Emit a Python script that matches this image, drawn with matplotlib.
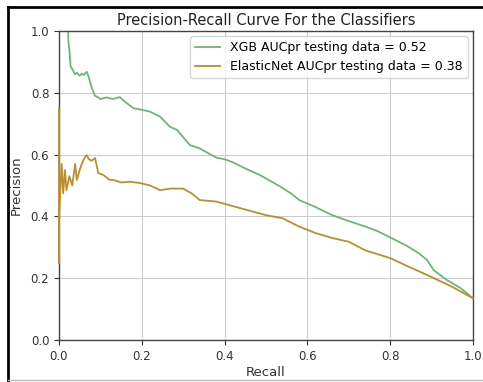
import matplotlib
matplotlib.use("Agg")
import matplotlib.pyplot as plt
from matplotlib.lines import Line2D

GREEN = "#6db676"
GOLD = "#b8902e"

# XGB precision-recall points
xgb_recall = [0.0, 0.022, 0.023, 0.025, 0.028, 0.033, 0.038, 0.043, 0.05, 0.055,
              0.06, 0.067, 0.072, 0.078, 0.087, 0.095, 0.10, 0.115, 0.13, 0.147,
              0.16, 0.18, 0.20, 0.22, 0.244, 0.268, 0.285, 0.316, 0.34, 0.36,
              0.38, 0.40, 0.42, 0.45, 0.485, 0.53, 0.56, 0.58, 0.62, 0.66,
              0.70, 0.74, 0.77, 0.80, 0.84, 0.87, 0.889, 0.905, 0.937, 0.97, 1.0]
xgb_precision = [1.0, 1.0, 0.96, 0.94, 0.885, 0.875, 0.86, 0.865, 0.855, 0.862,
                 0.858, 0.868, 0.85, 0.82, 0.79, 0.785, 0.78, 0.785, 0.78, 0.786,
                 0.77, 0.75, 0.745, 0.739, 0.723, 0.69, 0.68, 0.631, 0.62, 0.605,
                 0.59, 0.585, 0.575, 0.555, 0.534, 0.50, 0.475, 0.453, 0.43, 0.404,
                 0.385, 0.367, 0.352, 0.332, 0.305, 0.28, 0.259, 0.226, 0.194, 0.168,
                 0.135]

# ElasticNet precision-recall points
enet_recall = [0.0, 0.0, 0.0, 0.0065, 0.01, 0.0145, 0.018, 0.025, 0.032, 0.039,
               0.043, 0.05, 0.055, 0.063, 0.067, 0.072, 0.079, 0.087, 0.095, 0.107,
               0.123, 0.131, 0.15, 0.171, 0.196, 0.22, 0.244, 0.27, 0.30, 0.32,
               0.34, 0.38, 0.437, 0.50, 0.54, 0.58, 0.62, 0.66, 0.70, 0.74,
               0.80, 0.84, 0.88, 0.95, 1.0]
enet_precision = [0.75, 0.25, 0.40, 0.57, 0.475, 0.55, 0.485, 0.53, 0.50, 0.57,
                  0.518, 0.55, 0.57, 0.593, 0.598, 0.585, 0.58, 0.589, 0.54, 0.534,
                  0.518, 0.518, 0.51, 0.512, 0.508, 0.50, 0.485, 0.49, 0.49, 0.475,
                  0.453, 0.448, 0.427, 0.404, 0.394, 0.367, 0.346, 0.33, 0.318, 0.29,
                  0.265, 0.24, 0.216, 0.172, 0.135]

labels = ["XGB AUCpr testing data = 0.52", "ElasticNet AUCpr testing data = 0.38"]

plt.rcParams.update({"font.family": "DejaVu Sans", "font.size": 9})

fig = plt.figure(figsize=(4.83, 3.82), dpi=100)
ax = fig.add_axes([59 / 483, 1 - 340 / 382, 414 / 483, 309 / 382])

ax.plot(xgb_recall, xgb_precision, color=GREEN, lw=1.3, label=labels[0], zorder=2)
ax.plot(enet_recall, enet_precision, color=GOLD, lw=1.3, label=labels[1],
        zorder=3, clip_on=False)

ax.set_xlim(0, 1)
ax.set_ylim(0, 1)
ax.set_xticks([0, 0.2, 0.4, 0.6, 0.8, 1.0])
ax.set_yticks([0, 0.2, 0.4, 0.6, 0.8, 1.0])
ax.grid(True, color="#cccccc", lw=0.8)
for s in ax.spines.values():
    s.set_color("#444444")
    s.set_linewidth(1.0)
ax.tick_params(colors="#333333", labelsize=8.5, length=3.5, width=0.8)
ax.set_xlabel("Recall", fontsize=9.5, color="#333333", labelpad=2)
ax.set_ylabel("Precision", fontsize=9.5, color="#333333", labelpad=6)
ax.set_title("Precision-Recall Curve For the Classifiers", fontsize=10.5,
             color="#222222", pad=4)
leg = ax.legend(loc="upper right", fontsize=9, frameon=True, borderaxespad=0.4,
                handlelength=2.0)
leg.get_frame().set_edgecolor("#cccccc")
leg.set_zorder(5)

# outer frame of the screenshot
fig.add_artist(Line2D([8 / 483, 8 / 483], [0, 1 - 7 / 382], color="black", lw=2,
                      transform=fig.transFigure))
fig.add_artist(Line2D([8 / 483, 1], [1 - 7 / 382, 1 - 7 / 382], color="black", lw=2,
                      transform=fig.transFigure))
fig.add_artist(Line2D([8 / 483, 1], [1 - 380 / 382, 1 - 380 / 382], color="#bbbbbb",
                      lw=1, transform=fig.transFigure))

fig.savefig("out.png", dpi=100)
